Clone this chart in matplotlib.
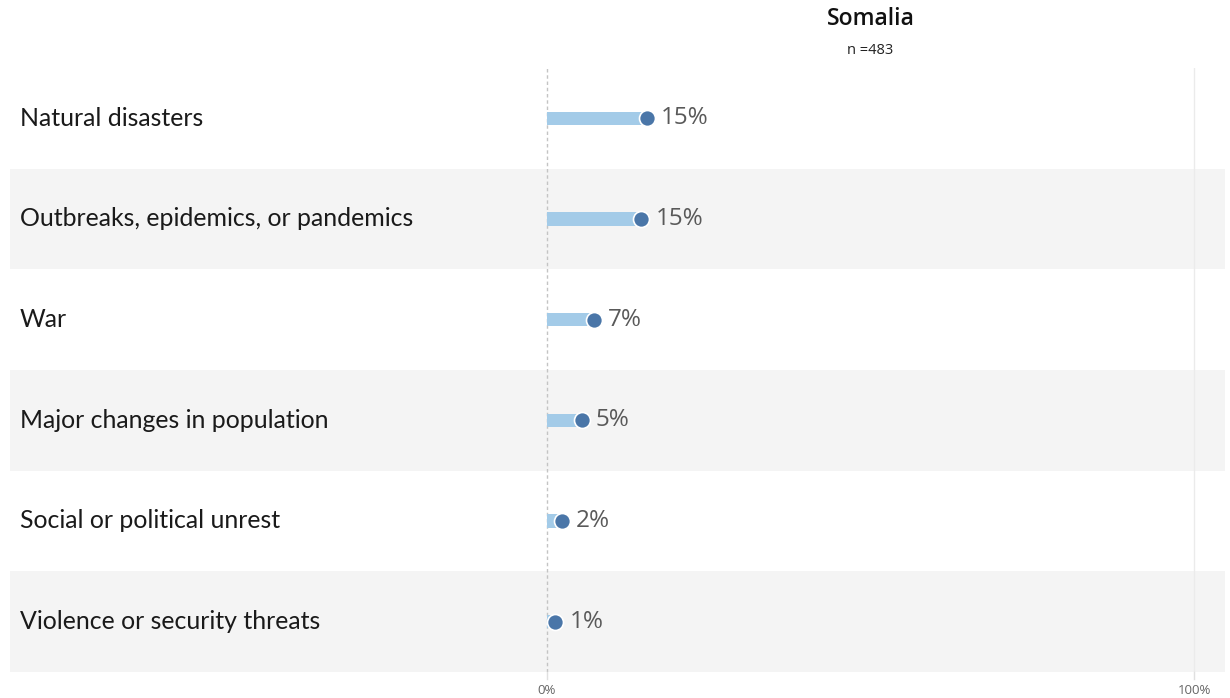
import matplotlib
matplotlib.use("Agg")
import matplotlib.pyplot as plt
from matplotlib.patches import Rectangle

categories = [
    "Natural disasters",
    "Outbreaks, epidemics, or pandemics",
    "War",
    "Major changes in population",
    "Social or political unrest",
    "Violence or security threats",
]
values = [15.4, 14.6, 7.2, 5.4, 2.3, 1.3]
title = "Somalia"
subtitle = "n =483"
tick_values = [0, 100]

W, H = 1230, 698
fig = plt.figure(figsize=(W / 100, H / 100), dpi=100)

# axes spans the full banded area; x-limits put 0 and 100 at the plot columns
x_left_px, x_right_px = 10, 1225
zero_px, hundred_px = 547, 1194
scale = (hundred_px - zero_px) / 100.0
xmin = (x_left_px - zero_px) / scale
xmax = (x_right_px - zero_px) / scale
top_px, bot_px = 68, 672
ax = fig.add_axes([x_left_px / W, 1 - bot_px / H,
                   (x_right_px - x_left_px) / W, (bot_px - top_px) / H])
ax.set_xlim(xmin, xmax)
n = len(categories)
ax.set_ylim(n - 0.5, -0.5)
ax.axis("off")

# alternating row bands
for i in range(n):
    if i % 2 == 1:
        ax.add_patch(Rectangle((xmin, i - 0.5), xmax - xmin, 1.0,
                               facecolor="#f4f4f4", edgecolor="none", zorder=0))

# reference lines at 0% and 100%
ax.axvline(0, color="#c4c4c4", lw=1, ls=(0, (2.5, 2)), zorder=1)
ax.axvline(100, color="#ebebeb", lw=1, zorder=1)

label_font = ["Lato", "DejaVu Sans"]
for i, (cat, v) in enumerate(zip(categories, values)):
    ax.barh(i, v, height=0.135, color="#a3cbe8", zorder=2)
    ax.plot(v, i, "o", ms=11.5, color="#4a76a8", mec="white", mew=1.2, zorder=3)
    ax.annotate(f"{round(v)}%", (v, i), xytext=(10, 0), textcoords="offset points",
                va="center", ha="left", fontsize=17.5, color="#595959",
                family=["Open Sans", "DejaVu Sans"], zorder=4)
    ax.text((20 - zero_px) / scale, i, cat, va="center", ha="left",
            fontsize=17.9, color="#1a1a1a", family=label_font)

# tick labels below the plot
for t in tick_values:
    fig.text((zero_px + t * scale) / W, 1 - 691 / H, f"{t}%", ha="center", va="center",
             fontsize=9.5, color="#666666", family=["Open Sans", "DejaVu Sans"])
    fig.add_artist(plt.Line2D([(zero_px + t * scale) / W] * 2,
                              [1 - 672 / H, 1 - 679 / H],
                              color="#e0e0e0", lw=1))

center_x = (zero_px + hundred_px) / 2 / W
fig.text(center_x, 1 - 19 / H, title, ha="center", va="center", fontsize=16.5,
         fontweight="semibold", color="#111111", family=["Open Sans", "DejaVu Sans"])
fig.text(center_x, 1 - 51 / H, subtitle, ha="center", va="center", fontsize=10.5,
         color="#222222", family=["Open Sans", "DejaVu Sans"])

fig.savefig("out.png", dpi=100, facecolor="white")
